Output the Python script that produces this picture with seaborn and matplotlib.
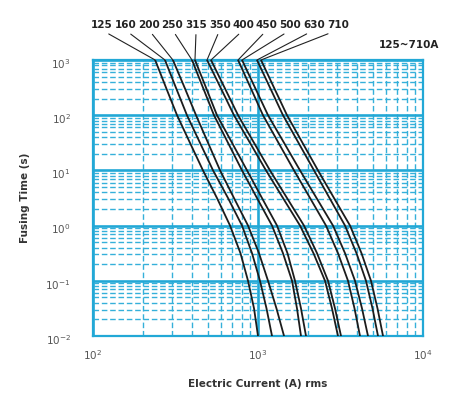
import numpy as np
import pandas as pd
import matplotlib
matplotlib.use("Agg")
import matplotlib.pyplot as plt
import matplotlib.ticker as mticker
from matplotlib.transforms import ScaledTranslation
import seaborn as sns

# ---- data ----
ratings = ["125", "160", "200", "250", "315", "350", "400", "450", "500", "630", "710"]
times = [1000, 316, 100, 31.6, 10, 3.16, 1, 0.316, 0.1, 0.0316, 0.01]
cur_125 = [238, 277, 323, 387, 464, 564, 677, 783, 870, 946, 1000]
cur_160 = [273, 318, 371, 445, 534, 658, 800, 920, 1028, 1126, 1216]
cur_200 = [305, 359, 421, 498, 589, 715, 870, 1014, 1150, 1294, 1438]
cur_250 = [398, 464, 541, 658, 800, 986, 1216, 1417, 1608, 1723, 1822]
cur_315 = [415, 484, 564, 696, 858, 1057, 1304, 1509, 1676, 1822, 1954]
cur_350 = [491, 593, 715, 894, 1118, 1417, 1797, 2169, 2548, 2808, 3053]
cur_400 = [519, 627, 757, 946, 1182, 1499, 1900, 2279, 2657, 2929, 3185]
cur_450 = [757, 901, 1072, 1331, 1653, 2067, 2583, 3053, 3512, 3845, 4151]
cur_500 = [800, 959, 1150, 1438, 1797, 2263, 2848, 3368, 3871, 4269, 4642]
cur_630 = [986, 1182, 1417, 1760, 2185, 2713, 3368, 3953, 4513, 4943, 5337]
cur_710 = [1043, 1250, 1499, 1861, 2310, 2888, 3612, 4239, 4839, 5300, 5724]
currents = [cur_125, cur_160, cur_200, cur_250, cur_315, cur_350,
            cur_400, cur_450, cur_500, cur_630, cur_710]
range_label = "125~710A"
x_label = "Electric Current (A) rms"
y_label = "Fusing Time (s)"

rows = []
for r, cs in zip(ratings, currents):
    for c, t in zip(cs, times):
        rows.append({"rating": r, "current": c, "time": t})
df = pd.DataFrame(rows)

sns.set_style("white")
plt.rcParams["font.family"] = ["DejaVu Sans"]

grid_major = "#22a8d6"
grid_minor = "#35b0da"

fig = plt.figure(figsize=(4.5, 4.09), dpi=100)
ax = fig.add_axes([93 / 450, 1 - 336 / 409, (423 - 93) / 450, (336 - 60) / 409])

sns.lineplot(data=df, x="current", y="time", hue="rating", hue_order=ratings,
             palette=["#1c1c1c"] * len(ratings), legend=False, estimator=None,
             sort=True, linewidth=1.3, ax=ax, zorder=5)

ax.set_xscale("log")
ax.set_yscale("log")
ax.set_xlim(100, 10000)
ax.set_ylim(0.01, 1000)

ax.xaxis.set_major_locator(mticker.LogLocator(base=10, numticks=10))
ax.yaxis.set_major_locator(mticker.LogLocator(base=10, numticks=10))
ax.xaxis.set_minor_locator(mticker.LogLocator(base=10, subs=np.arange(2, 10), numticks=100))
ax.yaxis.set_minor_locator(mticker.LogLocator(base=10, subs=np.arange(2, 10), numticks=100))
ax.xaxis.set_minor_formatter(mticker.NullFormatter())
ax.yaxis.set_minor_formatter(mticker.NullFormatter())

ax.grid(which="major", color=grid_major, lw=1.9, ls="-", zorder=1)
ax.grid(which="minor", color=grid_minor, lw=1.0, ls=(0, (4, 2)), zorder=1)
ax.set_axisbelow(True)
for s in ax.spines.values():
    s.set_color(grid_major)
    s.set_linewidth(1.6)

ax.tick_params(axis="both", which="both", length=0, labelsize=7.5, labelcolor="#555555")
ax.tick_params(axis="y", pad=16)
ax.tick_params(axis="x", pad=9)
for lab in ax.get_yticklabels():
    lab.set_transform(lab.get_transform() + ScaledTranslation(0, -3 / 100, fig.dpi_scale_trans))

ax.set_xlabel(x_label, fontsize=7.5, fontweight="bold", color="#333333", labelpad=12)
ax.set_ylabel(y_label, fontsize=7.5, fontweight="bold", color="#333333", labelpad=11)

# labels with leader lines
label_x0 = 101.7
label_dx = 23.6
for i, (r, cs) in enumerate(zip(ratings, currents)):
    fx = (label_x0 + label_dx * i) / 450
    ax.annotate(r, xy=(cs[0], times[0]), xycoords="data",
                xytext=(fx, 1 - 25 / 409), textcoords="figure fraction",
                ha="center", va="center", fontsize=7.5, fontweight="bold",
                color="#222222", annotation_clip=False,
                arrowprops=dict(arrowstyle="-", color="#222222", lw=0.8,
                                shrinkA=1, shrinkB=0, relpos=(0.5, 0.0)))

fig.text(409 / 450, 1 - 45 / 409, range_label, ha="center", va="center",
         fontsize=7.5, fontweight="bold", color="#222222")

fig.savefig("out.png", dpi=100)
